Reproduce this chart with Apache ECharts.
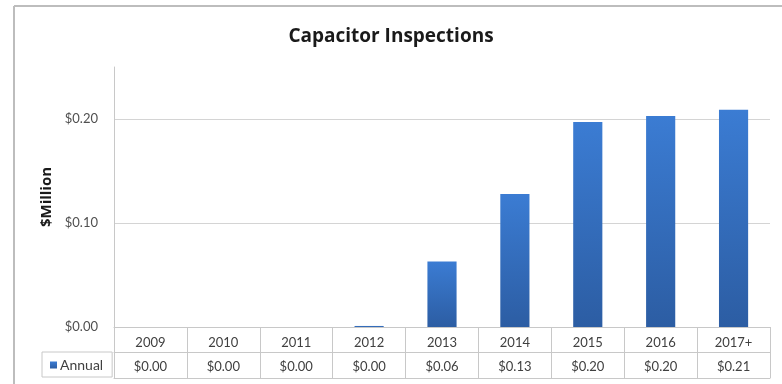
<!DOCTYPE html>
<html>
<head>
<meta charset="utf-8">
<script src="https://cdn.jsdelivr.net/npm/echarts@6/dist/echarts.min.js"></script>
<style>html,body{margin:0;padding:0;background:#fff}#c{width:782px;height:384px}</style>
</head>
<body>
<div id="c"></div>
<script>
var categories = ['2009','2010','2011','2012','2013','2014','2015','2016','2017+'];
var annual = [0, 0, 0, 0.001, 0.063, 0.128, 0.197, 0.203, 0.209];
var tableValues = ['$0.00','$0.00','$0.00','$0.00','$0.06','$0.13','$0.20','$0.20','$0.21'];
var yTicks = [0, 0.1, 0.2];

var FONT = 'Lato';
var GRID_C = '#c8c8c8';
var TXT = '#404040';

var chart = echarts.init(document.getElementById('c'));
chart.setOption({
  animation: false,
  textStyle: {fontFamily: FONT},
  title: {
    text: 'Capacitor Inspections',
    left: 'center', top: 22,
    textStyle: {fontFamily: 'Open Sans', fontWeight: 'bold', fontSize: 19, color: '#1a1a1a'}
  },
  graphic: [
    {type: 'line', shape: {x1: 14, y1: 6, x2: 782, y2: 6}, style: {stroke: '#bdbdbd', lineWidth: 2}},
    {type: 'line', shape: {x1: 14, y1: 6, x2: 14, y2: 384}, style: {stroke: '#bdbdbd', lineWidth: 2}}
  ],
  legend: {
    left: 42, top: 352,
    data: ['Annual'],
    icon: 'rect', itemWidth: 7, itemHeight: 7, itemGap: 0,
    padding: [6, 9, 5, 8],
    borderColor: GRID_C, borderWidth: 1,
    textStyle: {fontFamily: FONT, fontSize: 14, color: TXT, padding: [0, 0, 0, -2]}
  },
  grid: {left: 114, right: 12, top: 67, bottom: 57, containLabel: false},
  xAxis: [
    {
      type: 'category', data: categories, position: 'bottom',
      axisLine: {show: true, lineStyle: {color: GRID_C}},
      axisTick: {show: true, length: 51, lineStyle: {color: GRID_C}},
      axisLabel: {fontSize: 13, color: TXT, margin: 9, fontFamily: FONT}
    },
    {
      type: 'category', data: categories, position: 'bottom', offset: 25,
      axisLine: {show: true, lineStyle: {color: GRID_C}},
      axisTick: {show: false},
      axisLabel: {fontSize: 13, color: TXT, margin: 8, fontFamily: FONT,
        formatter: function (v, i) { return tableValues[i]; }}
    },
    {
      type: 'category', data: categories, position: 'bottom', offset: 51,
      axisLine: {show: true, lineStyle: {color: GRID_C}},
      axisTick: {show: false},
      axisLabel: {show: false}
    }
  ],
  yAxis: {
    type: 'value', min: 0, max: 0.25, interval: 0.1,
    name: '$Million', nameLocation: 'middle', nameGap: 58,
    nameTextStyle: {fontFamily: 'Open Sans', fontWeight: 'bold', fontSize: 15, color: '#1a1a1a'},
    axisLine: {show: true, lineStyle: {color: GRID_C}},
    axisTick: {show: false},
    axisLabel: {
      fontSize: 13, color: '#505050', margin: 16, fontFamily: FONT,
      showMaxLabel: false,
      formatter: function (v) {
        for (var k = 0; k < yTicks.length; k++) {
          if (Math.abs(v - yTicks[k]) < 1e-9) return '$' + yTicks[k].toFixed(2);
        }
        return '';
      }
    },
    splitLine: {show: true, showMaxLine: false, lineStyle: {color: '#d4d4d4'}}
  },
  series: [{
    name: 'Annual', type: 'bar', data: annual, barWidth: '40%', xAxisIndex: 0,
    itemStyle: {
      color: new echarts.graphic.LinearGradient(0, 0, 0, 1, [
        {offset: 0, color: '#3b7cd3'},
        {offset: 1, color: '#2c5da3'}
      ])
    }
  }]
});
</script>
</body>
</html>
